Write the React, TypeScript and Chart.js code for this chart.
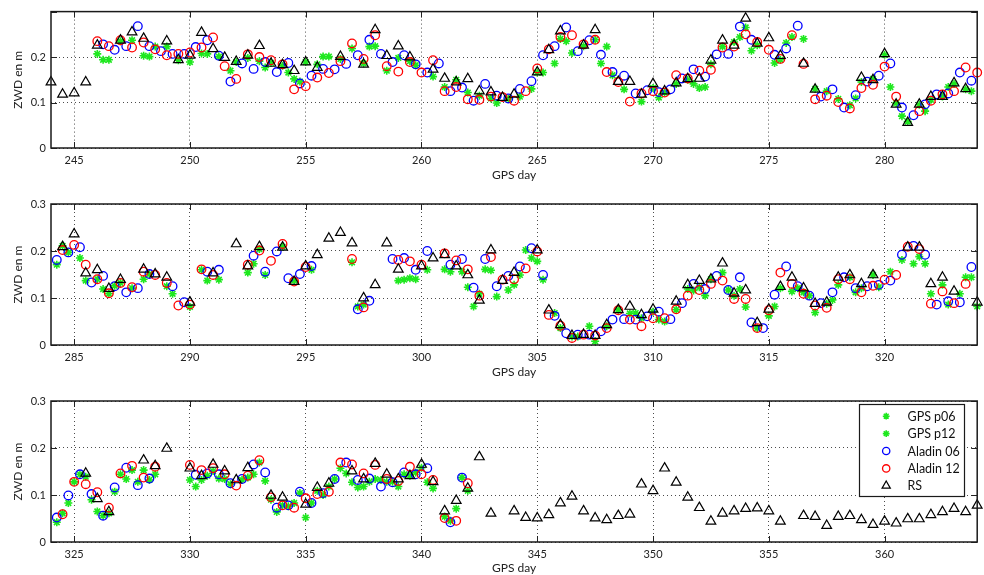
import React, { useEffect, useRef } from "react";
import { Chart, registerables } from "chart.js";
import { drawPoint } from "chart.js/helpers";

Chart.register(...registerables);
Chart.defaults.font.family = "Lato, 'DejaVu Sans', sans-serif";

// ---- DATA: [GPS day, ZWD in m] ----
const RS: [number, number][] = [
  [244, .145], [244.5, .118], [245, .121], [245.5, .145], [246, .226], [247, .237], [247.5, .255], [248, .241], [249, .235], [249.5, .194],
  [250, .204], [250.5, .254], [251, .218], [251.5, .199], [252, .19], [252.5, .204], [253, .225], [253.5, .186], [254, .183], [254.5, .17],
  [255, .189], [255.5, .177], [256.5, .201], [257.5, .184], [258, .26], [258.5, .203], [259, .224], [259.5, .2], [260.5, .173], [261, .153],
  [261.5, .145], [262, .152], [262.5, .125], [263, .123], [263.5, .111], [264, .118], [265, .167], [265.5, .216], [266, .257], [267, .226],
  [267.5, .26], [268.5, .146], [269, .146], [269.5, .118], [270, .141], [270.5, .125], [271, .143], [271.5, .152], [272, .153], [272.5, .193],
  [273, .237], [273.5, .226], [274, .285], [274.5, .23], [275, .242], [275.5, .203], [276.5, .186], [277, .129], [279, .155], [279.5, .15],
  [280, .207], [280.5, .096], [281, .056], [281.5, .096], [282, .113], [282.5, .113], [283, .143], [283.5, .13],
  [284.5, .209], [285, .236], [285.5, .153], [286, .16], [286.5, .12], [287, .139], [288, .161], [288.5, .151], [289, .144], [290, .091],
  [291, .153], [292, .215], [292.5, .168], [293, .209], [294, .208], [294.5, .135], [295, .168], [295.5, .192], [296, .227], [296.5, .239],
  [297, .217], [297.5, .1], [298, .128], [298.5, .217], [299, .161], [300, .168], [300.5, .185], [301, .192], [301.5, .168], [302, .149],
  [302.5, .095], [303, .202], [303.5, .137], [304, .154], [305, .202], [305.5, .074], [306, .043], [306.5, .02], [307, .022], [307.5, .02],
  [308, .043], [308.5, .075], [309, .082], [309.5, .064], [310, .076], [311, .093], [311.5, .128], [312, .137], [312.5, .14], [313, .174],
  [313.5, .11], [314, .117], [314.5, .047], [315, .076], [315.5, .124], [316, .144], [316.5, .121], [317, .088], [317.5, .091], [318, .144],
  [318.5, .149], [319, .13], [319.5, .149], [321, .208], [321.5, .208], [322, .13], [322.5, .144], [323, .114], [324, .091],
  [325.5, .146], [326, .092], [326.5, .064], [328, .174], [328.5, .162], [329, .199], [330, .157], [330.5, .141], [331, .165], [331.5, .151],
  [332, .132], [332.5, .158], [333.5, .099], [334, .095], [335, .08], [335.5, .116], [336, .125], [337, .151], [337.5, .134], [338, .167],
  [338.5, .144], [339, .134], [339.5, .141], [340, .165], [340.5, .128], [341, .066], [341.5, .088], [342, .114], [342.5, .181], [343, .061],
  [344, .066], [344.5, .052], [345, .051], [345.5, .058], [346, .083], [346.5, .097], [347, .066], [347.5, .051], [348, .047], [348.5, .056],
  [349, .059], [349.5, .123], [350, .109], [350.5, .157], [351, .127], [351.5, .095], [352, .073], [352.5, .044], [353, .061], [353.5, .066],
  [354, .071], [354.5, .072], [355, .066], [355.5, .044], [356.5, .056], [357, .054], [357.5, .035], [358, .054], [358.5, .056], [359, .047],
  [359.5, .037], [360, .044], [360.5, .04], [361, .049], [361.5, .049], [362, .058], [362.5, .064], [363, .071], [363.5, .064], [364, .078],
];

const ALADIN_06: [number, number][] = [
  [246.25, .228], [246.75, .216], [247.25, .224], [247.75, .268], [248.25, .224], [248.75, .213], [249.25, .207], [249.75, .207], [250.25, .222], [250.75, .237],
  [251.25, .203], [251.75, .146], [252.25, .186], [252.75, .174], [253.25, .189], [253.75, .167], [254.25, .187], [254.75, .142], [255.25, .159], [255.75, .174],
  [256.25, .173], [256.75, .185], [257.25, .204], [257.75, .238], [258.25, .207], [258.75, .189], [259.25, .204], [259.75, .184], [260.25, .166], [260.75, .186],
  [261.25, .125], [261.75, .133], [262.25, .104], [262.75, .141], [263.25, .115], [263.75, .109], [264.25, .13], [264.75, .147], [265.25, .204], [265.75, .224],
  [266.25, .265], [266.75, .213], [267.25, .237], [267.75, .205], [268.25, .167], [268.75, .159], [269.25, .12], [269.75, .127], [270.25, .123], [270.75, .129],
  [271.25, .153], [271.75, .173], [272.25, .157], [272.75, .206], [273.25, .207], [273.75, .267], [274.25, .238], [275.25, .205], [275.75, .219], [276.25, .269],
  [277.25, .113], [277.75, .129], [278.25, .089], [278.75, .116], [279.25, .146], [279.75, .159], [280.25, .186], [280.75, .089], [281.25, .072], [281.75, .096],
  [282.25, .118], [282.75, .12], [283.25, .166], [283.75, .148],
  [284.25, .181], [284.75, .197], [285.25, .208], [285.75, .133], [286.25, .147], [286.75, .125], [287.25, .112], [287.75, .121], [288.25, .151], [289.25, .125],
  [289.75, .091], [290.75, .156], [291.25, .16], [292.75, .19], [293.25, .156], [293.75, .199], [294.25, .142], [294.75, .151], [295.25, .168], [297.25, .076],
  [297.75, .094], [298.75, .183], [299.25, .185], [299.75, .16], [300.25, .2], [301.25, .171], [301.75, .183], [302.25, .122], [302.75, .183], [303.25, .125],
  [303.75, .147], [304.25, .167], [304.75, .206], [305.25, .149], [305.75, .062], [306.25, .025], [306.75, .022], [307.25, .022], [307.75, .029], [308.25, .054],
  [308.75, .055], [309.25, .054], [309.75, .061], [310.25, .071], [310.75, .055], [311.25, .089], [311.75, .13], [312.25, .119], [312.75, .147], [313.25, .117],
  [313.75, .144], [314.25, .048], [314.75, .036], [315.25, .107], [315.75, .167], [316.25, .125], [316.75, .105], [317.25, .089], [317.75, .112], [318.25, .144],
  [318.75, .121], [319.25, .125], [319.75, .128], [320.25, .137], [320.75, .192], [321.25, .211], [321.75, .192], [322.25, .086], [322.75, .093], [323.25, .091],
  [323.75, .166],
  [324.25, .052], [324.75, .099], [325.25, .144], [325.75, .102], [326.25, .056], [326.75, .116], [327.25, .158], [327.75, .121], [328.25, .135], [330.25, .143],
  [330.75, .146], [331.25, .144], [331.75, .125], [332.25, .134], [332.75, .165], [333.25, .148], [333.75, .073], [334.25, .078], [334.75, .107], [335.25, .083],
  [335.75, .104], [336.25, .134], [336.75, .169], [337.25, .132], [337.75, .135], [338.25, .118], [338.75, .127], [339.25, .148], [339.75, .144], [340.25, .157],
  [341.25, .042], [341.75, .137],
];

const ALADIN_12: [number, number][] = [
  [246, .235], [246.5, .224], [247, .237], [247.5, .221], [248, .232], [248.5, .217], [249, .204], [249.5, .207], [250, .21], [250.5, .221],
  [251, .243], [251.5, .18], [252, .152], [252.5, .206], [253, .2], [253.5, .193], [254, .184], [254.5, .129], [255, .136], [255.5, .155],
  [256, .165], [256.5, .191], [257, .23], [257.5, .196], [258, .248], [258.5, .18], [259, .168], [259.5, .189], [260, .166], [260.5, .193],
  [261, .125], [261.5, .134], [262, .107], [262.5, .106], [263, .113], [263.5, .112], [264, .104], [264.5, .125], [265, .175], [265.5, .217],
  [266, .244], [266.5, .248], [267, .228], [267.5, .238], [268, .167], [268.5, .145], [269, .102], [269.5, .12], [270, .125], [270.5, .122],
  [271, .16], [271.5, .153], [272, .17], [272.5, .172], [273, .221], [273.5, .223], [274, .25], [274.5, .233], [275, .216], [275.5, .196],
  [276, .248], [276.5, .185], [277, .107], [277.5, .115], [278, .101], [278.5, .087], [279, .132], [279.5, .139], [280, .179], [280.5, .113],
  [281.5, .081], [282, .104], [282.5, .118], [283, .125], [283.5, .177], [284, .166],
  [284.5, .202], [285, .213], [285.5, .171], [286, .14], [286.5, .11], [287, .132], [287.5, .123], [288, .156], [288.5, .149], [289, .132],
  [289.5, .084], [290, .086], [290.5, .161], [291, .149], [292.5, .171], [293, .201], [293.5, .179], [294, .215], [294.5, .135], [295, .166],
  [297, .183], [297.5, .08], [299, .181], [299.5, .178], [300, .171], [301, .195], [301.5, .18], [302, .161], [302.5, .105], [303, .187],
  [303.5, .139], [304, .14], [304.5, .163], [305, .199], [305.5, .064], [306, .041], [306.5, .015], [307, .022], [307.5, .02], [308, .036],
  [308.5, .074], [309, .054], [309.5, .04], [310, .057], [310.5, .057], [311, .076], [311.5, .105], [312, .117], [312.5, .13], [313, .137],
  [313.5, .098], [314, .098], [314.5, .036], [315, .074], [315.5, .154], [316, .13], [316.5, .109], [317, .084], [317.5, .079], [318, .14],
  [318.5, .14], [319, .112], [319.5, .126], [320, .139], [320.5, .149], [321, .209], [321.5, .204], [322, .088], [322.5, .114], [323, .089],
  [323.5, .13],
  [324.5, .059], [325, .128], [325.5, .123], [326, .106], [326.5, .073], [327, .146], [327.5, .162], [328, .137], [328.5, .16], [330, .164],
  [330.5, .153], [331, .157], [331.5, .144], [332, .12], [332.5, .141], [333, .174], [333.5, .095], [334, .078], [334.5, .073], [335, .093],
  [335.5, .102], [336, .107], [336.5, .169], [337, .165], [337.5, .146], [338, .164], [338.5, .134], [339, .13], [339.5, .16], [340, .144],
  [340.5, .132], [341, .051], [341.5, .045], [342, .125],
];

const GPS_P06: [number, number][] = [
  [246.25, .194], [248.25, .201], [250.75, .207], [251.25, .201], [251.75, .17], [253.25, .177], [254.25, .166], [254.75, .146], [255.75, .201], [257.75, .223],
  [259.75, .182], [263.25, .099], [263.75, .108], [264.25, .113], [264.75, .13], [265.25, .166], [265.75, .186], [266.25, .235], [267.75, .186], [268.25, .16],
  [268.75, .129], [270.25, .111], [271.75, .141], [272.25, .134], [273.75, .244], [274.25, .214], [275.25, .187], [275.75, .231], [278.75, .109], [280.25, .134],
  [280.75, .07], [281.75, .081], [282.75, .134], [283.75, .125],
  [284.25, .171], [284.75, .197], [285.25, .185], [286.25, .119], [286.75, .126], [288.25, .151], [289.25, .109], [290.75, .137], [291.25, .139], [292.75, .173],
  [293.25, .149], [295.25, .16], [297.25, .082], [299.25, .139], [299.75, .14], [300.25, .16], [301.25, .156], [301.75, .156], [302.25, .082], [302.75, .161],
  [303.25, .103], [303.75, .117], [304.25, .149], [304.75, .185], [305.25, .139], [305.75, .068], [306.75, .018], [307.25, .04], [309.25, .068], [310.25, .054],
  [311.75, .116], [312.25, .105], [313.25, .117], [313.75, .119], [315.25, .082], [316.25, .121], [316.75, .105], [317.75, .096], [318.75, .112], [319.75, .123],
  [320.25, .156], [320.75, .181], [321.25, .173], [321.75, .173], [322.75, .086], [323.25, .109], [323.75, .144],
  [324.25, .042], [324.75, .083], [325.25, .144], [325.75, .09], [326.25, .056], [326.75, .107], [327.25, .134], [327.75, .128], [328.25, .132], [330.25, .118],
  [330.75, .141], [331.25, .135], [331.75, .123], [332.25, .132], [332.75, .144], [333.25, .13], [333.75, .064], [334.25, .076], [334.75, .104], [335.25, .083],
  [335.75, .1], [336.25, .134], [336.75, .146], [337.25, .116], [337.75, .128], [338.25, .132], [338.75, .128], [339.25, .144], [339.75, .148], [340.25, .127],
  [341.25, .045], [341.75, .137],
];

const GPS_P12: [number, number][] = [
  [246, .207], [246.5, .194], [247, .235], [247.5, .237], [248, .203], [248.5, .223], [249, .223], [249.5, .193], [250, .189], [250.5, .208],
  [252, .189], [252.5, .198], [253, .191], [253.5, .187], [254, .181], [254.5, .152], [255, .189], [255.5, .184], [256, .201], [256.5, .196],
  [257, .219], [257.5, .186], [258, .224], [258.5, .17], [259, .198], [259.5, .191], [260.5, .157], [261, .134], [261.5, .15], [262, .122],
  [262.5, .115], [263, .109], [265, .166], [266, .24], [266.5, .209], [267, .224], [267.5, .238], [268, .223], [269.5, .102], [270, .132],
  [270.5, .122], [271, .141], [271.5, .15], [272, .132], [272.5, .184], [273, .223], [273.5, .233], [274, .265], [274.5, .226], [275.5, .194],
  [276, .244], [276.5, .24], [277, .13], [277.5, .125], [278, .108], [278.5, .094], [279, .145], [279.5, .152], [280, .205], [280.5, .099],
  [281, .058], [281.5, .095], [282, .106], [282.5, .113], [283, .141], [283.5, .129],
  [284.5, .211], [285.5, .137], [286, .14], [286.5, .109], [287, .132], [287.5, .121], [288, .14], [289, .125], [290, .081], [290.5, .16],
  [292.5, .154], [293, .204], [294, .209], [294.5, .137], [297, .176], [297.5, .086], [299, .137], [299.5, .142], [301, .161], [302, .123],
  [302.5, .109], [303, .159], [304, .128], [304.5, .202], [305, .178], [306, .036], [306.5, .018], [307.5, .008], [308, .04], [308.5, .075],
  [309, .067], [309.5, .057], [310, .071], [310.5, .05], [311, .075], [311.5, .119], [312, .123], [312.5, .14], [313, .154], [313.5, .105],
  [314, .081], [314.5, .036], [315, .062], [315.5, .121], [316, .114], [316.5, .112], [317, .069], [317.5, .088], [318, .128], [318.5, .144],
  [319, .121], [319.5, .149], [321.5, .188], [322, .109], [322.5, .128], [323.5, .144], [324, .082],
  [324.5, .061], [325, .128], [325.5, .139], [326, .065], [326.5, .061], [327, .144], [327.5, .153], [328, .153], [328.5, .144], [330, .132],
  [330.5, .132], [331, .151], [331.5, .134], [332.5, .137], [333, .169], [333.5, .09], [334, .078], [334.5, .083], [335, .052], [335.5, .109],
  [336, .118], [336.5, .157], [337, .127], [337.5, .118], [338, .134], [338.5, .128], [339, .118], [339.5, .141], [340, .158], [340.5, .114],
  [341, .054], [341.5, .071], [342, .109],
];

const DAY_RANGES: [number, number][] = [[244, 284], [284, 324], [324, 364]];
const X_TICKS: number[][] = [
  [245, 250, 255, 260, 265, 270, 275, 280],
  [285, 290, 295, 300, 305, 310, 315, 320],
  [325, 330, 335, 340, 345, 350, 355, 360],
];
const Y_TICKS = [0, 0.1, 0.2, 0.3];
const Y_TICK_LABELS = ["0", "0.1", "0.2", "0.3"];
const X_TITLE = "GPS day";
const Y_TITLE = "ZWD en m";

const SERIES = [
  { label: "GPS p06", data: GPS_P06, style: "star", color: "#1ee81e", radius: 4, width: 1.6 },
  { label: "GPS p12", data: GPS_P12, style: "star", color: "#1ee81e", radius: 4, width: 1.6 },
  { label: "Aladin 06", data: ALADIN_06, style: "circle", color: "#0000ff", radius: 4.3, width: 1.3 },
  { label: "Aladin 12", data: ALADIN_12, style: "circle", color: "#ff0000", radius: 4.3, width: 1.3 },
  { label: "RS", data: RS, style: "triangle", color: "#000000", radius: 5.6, width: 1.2 },
];

// ---- LAYOUT ----
const PANELS = [
  { top: 0, height: 184, padTop: 7, axisH: 36, titlePad: 2, hideTopLabel: true, legend: false },
  { top: 190, height: 190, padTop: 14, axisH: 35, titlePad: 1, hideTopLabel: false, legend: false },
  { top: 385, height: 190, padTop: 16, axisH: 33, titlePad: 0, hideTopLabel: false, legend: true },
];
const TICK_LEN = 6;

const framePlugin = {
  id: "matlabFrame",
  afterDraw(chart: any) {
    const { ctx, chartArea: a, scales } = chart;
    const xs = scales.x, ys = scales.y;
    ctx.save();
    ctx.strokeStyle = "#222";
    ctx.lineWidth = 1;
    ctx.beginPath();
    xs.ticks.forEach((t: any) => {
      const px = Math.round(xs.getPixelForValue(t.value)) + 0.5;
      ctx.moveTo(px, a.top); ctx.lineTo(px, a.top + TICK_LEN);
      ctx.moveTo(px, a.bottom); ctx.lineTo(px, a.bottom - TICK_LEN);
    });
    ys.ticks.forEach((t: any) => {
      const py = Math.round(ys.getPixelForValue(t.value)) + 0.5;
      ctx.moveTo(a.left, py); ctx.lineTo(a.left + TICK_LEN, py);
      ctx.moveTo(a.right, py); ctx.lineTo(a.right - TICK_LEN, py);
    });
    ctx.stroke();
    ctx.lineWidth = 1.5;
    ctx.strokeStyle = "#1a1a1a";
    ctx.strokeRect(a.left, a.top, a.right - a.left, a.bottom - a.top);
    ctx.restore();
  },
};

const legendPlugin = {
  id: "boxLegend",
  afterDraw(chart: any) {
    const { ctx, chartArea: a } = chart;
    const w = 105, h = 92;
    const x0 = Math.round(a.right - 13 - w) + 0.5;
    const y0 = Math.round(a.top + 3) + 0.5;
    ctx.save();
    ctx.fillStyle = "#ffffff";
    ctx.fillRect(x0, y0, w, h);
    ctx.strokeStyle = "#1a1a1a";
    ctx.lineWidth = 1.2;
    ctx.strokeRect(x0, y0, w, h);
    ctx.font = "12.5px Lato, 'DejaVu Sans', sans-serif";
    ctx.textBaseline = "middle";
    ctx.textAlign = "left";
    SERIES.forEach((s, i) => {
      const cy = y0 + 11.7 + i * 17.4;
      ctx.strokeStyle = s.color;
      ctx.fillStyle = "rgba(0,0,0,0)";
      ctx.lineWidth = s.width;
      drawPoint(ctx, { pointStyle: s.style, radius: s.radius * 0.85, rotation: 0, borderWidth: s.width } as any, x0 + 26.7, cy);
      ctx.fillStyle = "#111";
      ctx.fillText(s.label, x0 + 48, cy + 0.5);
    });
    ctx.restore();
  },
};

function Panel({ idx }: { idx: number }) {
  const ref = useRef<HTMLCanvasElement>(null);
  const p = PANELS[idx];
  useEffect(() => {
    const [dmin, dmax] = DAY_RANGES[idx];
    const inRange = (d: number) => (idx === 0 ? d >= dmin : d > dmin) && d <= dmax;
    const n = SERIES.length;
    const datasets = SERIES.map((s, i) => ({
      label: s.label,
      data: s.data.filter(([d]) => inRange(d)).map(([d, v]) => ({ x: d, y: v })),
      pointStyle: s.style,
      pointRadius: s.radius,
      pointBorderWidth: s.width,
      borderColor: s.color,
      pointBorderColor: s.color,
      backgroundColor: "rgba(0,0,0,0)",
      pointBackgroundColor: "rgba(0,0,0,0)",
      showLine: false,
      clip: false as any,
      order: n - 1 - i,
    }));
    const gridColor = "rgba(0,0,0,0.7)";
    const tickFont = { size: 11 };
    const chart = new Chart(ref.current!, {
      type: "scatter",
      data: { datasets },
      options: {
        animation: false,
        responsive: false,
        events: [],
        layout: { padding: { top: p.padTop, right: 1, left: 0, bottom: 0 } },
        plugins: { legend: { display: false }, tooltip: { enabled: false } },
        scales: {
          x: {
            type: "linear",
            position: "bottom",
            min: dmin,
            max: dmax,
            afterBuildTicks: (scale: any) => { scale.ticks = X_TICKS[idx].map((v) => ({ value: v })); },
            afterFit: (scale: any) => { scale.height = p.axisH; },
            ticks: { color: "#222", font: tickFont, padding: 6, maxRotation: 0, autoSkip: false, callback: (v: any) => String(v) },
            grid: { color: gridColor, lineWidth: 1, drawTicks: false },
            border: { display: false, dash: [1, 3] },
            title: { display: true, text: X_TITLE, color: "#222", font: { size: 12 }, padding: { top: 0, bottom: p.titlePad } },
          },
          y: {
            type: "linear",
            position: "left",
            min: 0,
            max: 0.3,
            afterBuildTicks: (scale: any) => { scale.ticks = Y_TICKS.map((v) => ({ value: v })); },
            afterFit: (scale: any) => { scale.width = 51; },
            ticks: {
              color: "#222",
              font: tickFont,
              padding: 5,
              autoSkip: false,
              callback: (_v: any, i: number) => (p.hideTopLabel && i === Y_TICKS.length - 1 ? "" : Y_TICK_LABELS[i]),
            },
            grid: { color: gridColor, lineWidth: 1, drawTicks: false },
            border: { display: false, dash: [1, 3] },
            title: { display: true, text: Y_TITLE, color: "#222", font: { size: 12 }, padding: { top: 11, bottom: 0 } },
          },
        },
      } as any,
      plugins: p.legend ? [framePlugin, legendPlugin] : [framePlugin],
    });
    return () => chart.destroy();
  }, [idx]);
  return (
    <canvas
      ref={ref}
      width={984}
      height={p.height}
      style={{ position: "absolute", left: 0, top: p.top, width: 984, height: p.height, display: "block" }}
    />
  );
}

export default function App() {
  return (
    <div style={{ position: "absolute", left: 0, top: 0, width: 984, height: 575, background: "#fff", overflow: "hidden" }}>
      <Panel idx={0} />
      <Panel idx={1} />
      <Panel idx={2} />
    </div>
  );
}
